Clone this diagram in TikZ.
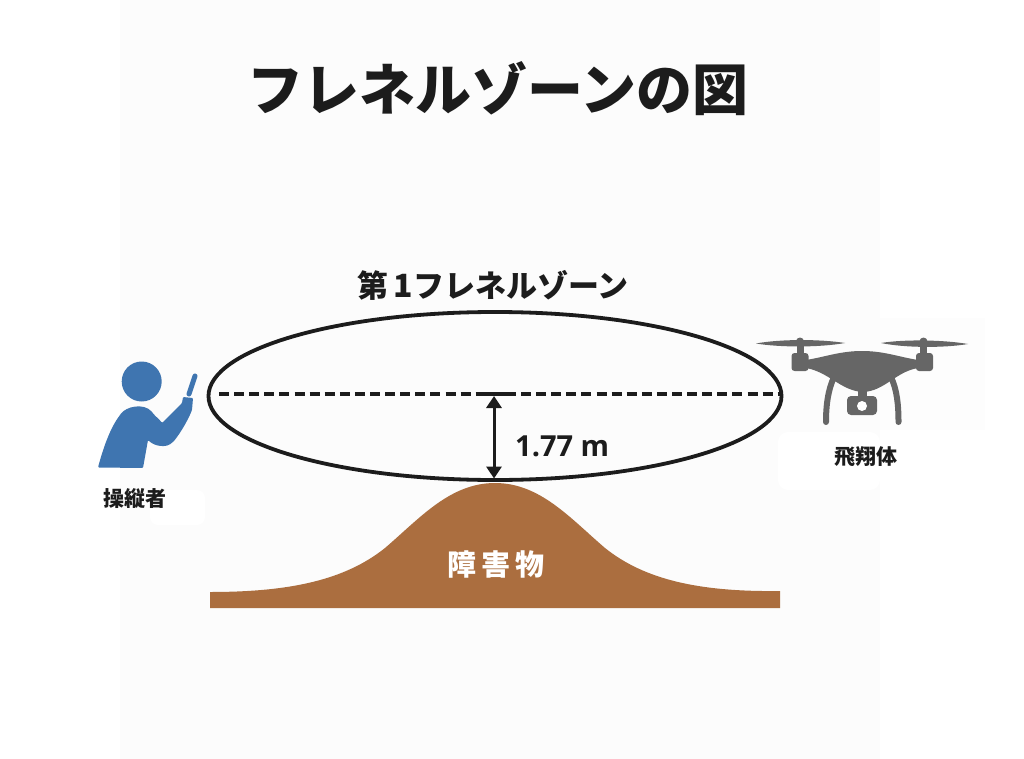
\documentclass[tikz,border=0pt]{standalone}
\usepackage{fontspec}
\newfontfamily\cjk{Noto Sans CJK JP}
\newfontfamily\latin{Open Sans}
\usetikzlibrary{arrows.meta,shapes.geometric}
\definecolor{bgpanel}{HTML}{FCFCFC}
\definecolor{smudge}{HTML}{FDFDFD}
\definecolor{ink}{HTML}{1C1C1C}
\definecolor{pilot}{HTML}{3F75B0}
\definecolor{dronegray}{HTML}{666666}
\definecolor{hill}{HTML}{AB6E3F}
\tikzset{
  lbl/.style={font=\cjk\bfseries\fontsize{#1}{#1}\selectfont,text=ink,inner sep=0pt},
  lbl/.default=21,
  zone/.style={draw=ink,line width=3.8pt,ellipse,inner sep=0pt,outer sep=0pt,minimum width=573pt,minimum height=168pt},
  axisline/.style={draw=ink,line width=3.8pt,dash pattern=on 10pt off 5.1pt},
  gauge/.style={draw=ink,line width=3pt,{Triangle[length=12pt,width=15pt]}-{Triangle[length=12pt,width=15pt]}}
}
\begin{document}
\begin{tikzpicture}[x=1pt,y=-1pt]
\useasboundingbox (0,0) rectangle (1024,759);
\fill[white] (0,0) rectangle (1024,759);
\fill[bgpanel] (120,0) rectangle (880,759);
% white retouched patches
\fill[white,rounded corners=10pt] (778,432) rectangle (880,490);
\fill[white,rounded corners=8pt] (150,490) rectangle (205,525);
\fill[smudge] (880,318) rectangle (985,430);

\node[lbl=56] (title) at (498,89) {フレネルゾーンの図};
\node[lbl=31] (zonelabel) at (493,285) {第\,{\fontsize{32}{32}\selectfont 1}フレネルゾーン};

% hill
\fill[hill] (210,608) -- (210,592)
  .. controls (290,592) and (345,580) .. (385,548)
  .. controls (420,518) and (450,483) .. (495,483)
  .. controls (540,483) and (570,518) .. (605,548)
  .. controls (645,580) and (700,592) .. (780,591)
  -- (780,608) -- cycle;
\node[font=\cjk\bfseries\fontsize{29}{29}\selectfont,text=white,inner sep=0pt] (obstacle) at (496,564) {障\,害\,物};

% zone
\node[zone] (fzone) at (495,396) {};
\coordinate (axisL) at (219,394);
\coordinate (axisR) at (780,394);
\coordinate (gaugeTop) at (494,396);
\coordinate (gaugeBot) at (494,478.5);
\coordinate (barL) at (476,394);
\coordinate (barR) at (515,394);
\draw[axisline] (axisL) -- (axisR);
\draw[draw=ink,line width=3.8pt] (barL) -- (barR);
\draw[gauge] (gaugeTop) -- (gaugeBot);
\node[font=\latin\bfseries\fontsize{29}{29}\selectfont,text=ink,inner sep=0pt,anchor=west] (dist) at (515,446) {1.77 m};

% pilot
\fill[pilot] (141.7,381.5) circle (20);
\fill[pilot,rounded corners=1pt] (98,467.5) .. controls (104,445) and (111,427) .. (120,415)
  .. controls (126,406) and (144,403) .. (152,412)
  .. controls (155,416) and (160,420) .. (162,423)
  -- (182,403) -- (183,397) -- (193,398) -- (192,410)
  .. controls (188,420) and (182,430) .. (177,437)
  .. controls (172,444) and (168,446) .. (163,446)
  .. controls (157,446) and (152,444) .. (148,440)
  -- (143,468) -- cycle;
\draw[pilot,line width=5pt,line cap=round] (189,394) -- (195,376);
\node[lbl=21] (oper) at (135,499) {操縦者};

% drone
\begin{scope}[dronegray]
\fill (756,343.5) .. controls (780,339) and (820,339) .. (845,343)
  .. controls (820,347.5) and (780,347.5) .. (756,343.5) -- cycle;
\fill (881,343) .. controls (905,339) and (945,340) .. (968,344)
  .. controls (945,348) and (905,348) .. (881,343) -- cycle;
\fill (796.5,340) rectangle (803.5,358);
\fill (920,340) rectangle (927,358);
\fill (800,341.5) circle (4);
\fill (923.5,341.5) circle (4);
\fill[rounded corners=3pt] (791.5,353) rectangle (808.5,371);
\fill[rounded corners=3pt] (916,353) rectangle (933,371);
\fill (806,360) .. controls (825,357) and (840,351) .. (862,351)
  .. controls (884,351) and (899,357) .. (918,360)
  -- (918,368)
  .. controls (895,372) and (885,391) .. (863,392)
  .. controls (841,391) and (829,372) .. (806,368) -- cycle;
\draw[line width=6pt,line cap=round] (834,377) .. controls (828,390) and (826,405) .. (826,422);
\draw[line width=6pt,line cap=round] (891,377) .. controls (897,390) and (898.5,405) .. (898.5,422);
\fill (858,390) rectangle (867,398);
\fill[rounded corners=4pt] (847,396) rectangle (877,415);
\fill[white] (862,406) circle (5);
\end{scope}
\node[lbl=21] (craft) at (866,457) {飛翔体};
\end{tikzpicture}
\end{document}
